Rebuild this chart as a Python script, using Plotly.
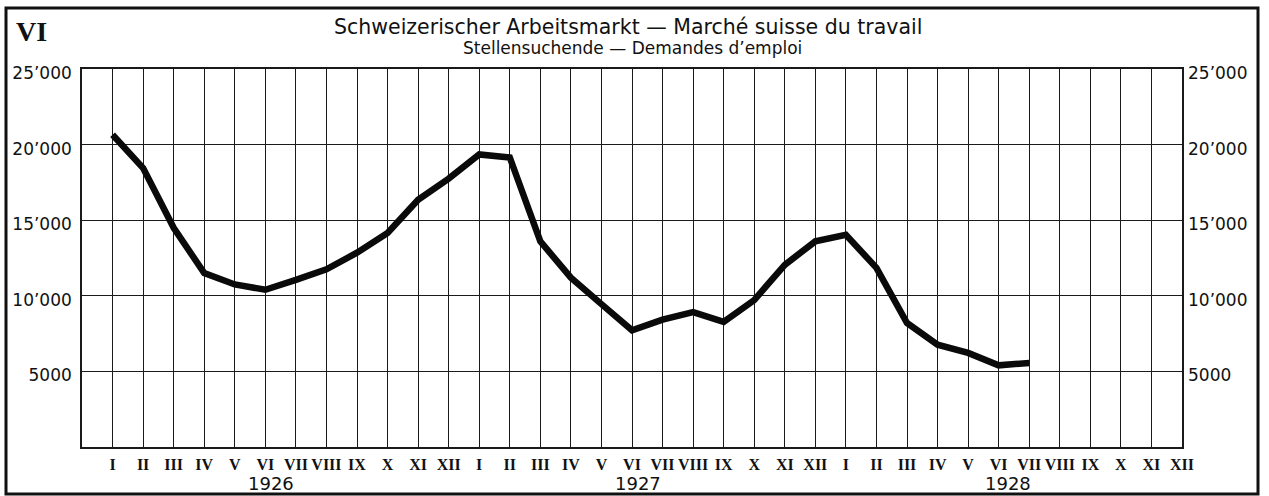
import plotly.graph_objects as go

# Data: job seekers (Stellensuchende), monthly, Jan 1926 - Jul 1928
month_labels = ["I", "II", "III", "IV", "V", "VI", "VII", "VIII", "IX", "X", "XI", "XII"]
years = ["1926", "1927", "1928"]
values = [
    20650, 18450, 14500, 11500, 10750, 10400, 11050, 11750, 12850, 14150, 16350, 17750,  # 1926
    19350, 19150, 13600, 11200, 9450, 7720, 8420, 8920, 8280, 9720, 12050, 13600,        # 1927
    14030, 11850, 8200, 6770, 6220, 5400, 5560,                                          # 1928
]
y_tickvals = [5000, 10000, 15000, 20000, 25000]
y_ticktext = ["5000", "10\u2019000", "15\u2019000", "20\u2019000", "25\u2019000"]
year_label_pos = [5.2, 17.2, 29.3]

x_all = list(range(len(month_labels) * len(years)))
x_labels = month_labels * len(years)
x_vals = x_all[:len(values)]

GRID = "#1a1a1a"
NUMFONT = dict(family="DejaVu Sans", size=17, color="#111")

fig = go.Figure()
fig.add_trace(go.Scatter(
    x=x_vals, y=values, mode="lines",
    line=dict(color="#0a0a0a", width=6.5, shape="linear"),
    hoverinfo="skip", showlegend=False,
))
# invisible trace for right axis
fig.add_trace(go.Scatter(x=[x_vals[0]], y=[values[0]], yaxis="y2", mode="markers",
                         marker=dict(opacity=0), hoverinfo="skip", showlegend=False))

fig.update_layout(
    width=1269, height=496,
    margin=dict(l=82, r=87, t=69, b=49, autoexpand=False),
    paper_bgcolor="white", plot_bgcolor="white",
    xaxis=dict(
        range=[-1, 35], tickmode="array", tickvals=x_all, ticktext=x_labels,
        showgrid=True, gridcolor=GRID, gridwidth=1.2,
        showline=True, linecolor=GRID, linewidth=1.6, mirror=True,
        ticks="", zeroline=False, tickangle=0, automargin=False,
        tickfont=dict(family="Liberation Serif", size=16, color="#111", weight="bold"),
        ticklabelstandoff=2,
    ),
    yaxis=dict(
        range=[0, 25000], tickmode="array", tickvals=y_tickvals, ticktext=y_ticktext,
        showgrid=True, gridcolor=GRID, gridwidth=1.2,
        showline=True, linecolor=GRID, linewidth=1.6, mirror=True,
        ticks="", zeroline=False, tickfont=NUMFONT, automargin=False,
        ticklabelstandoff=5, ticklabelshift=4,
    ),
    yaxis2=dict(
        range=[0, 25000], tickmode="array", tickvals=y_tickvals, ticktext=y_ticktext,
        overlaying="y", side="right", showgrid=False, zeroline=False, automargin=False,
        ticks="", tickfont=NUMFONT, ticklabelstandoff=5, ticklabelshift=4,
    ),
    font=dict(family="DejaVu Sans", color="#111"),
)

# Outer frame
fig.add_shape(type="rect", xref="paper", yref="paper",
              x0=(6 - 82) / 1100, x1=(1258 - 82) / 1100,
              y0=(447 - 494) / 378, y1=(447 - 8) / 378,
              line=dict(color="#111", width=3), fillcolor="rgba(0,0,0,0)", layer="below")

# Titles
fig.add_annotation(text="Schweizerischer Arbeitsmarkt \u2014 Marché suisse du travail",
                   xref="paper", yref="paper", x=(628 - 82) / 1100, y=(447 - 27) / 378,
                   showarrow=False, font=dict(family="DejaVu Sans", size=20.5, color="#111"),
                   xanchor="center", yanchor="middle")
fig.add_annotation(text="Stellensuchende \u2014 Demandes d\u2019emploi",
                   xref="paper", yref="paper", x=(632 - 82) / 1100, y=(447 - 48) / 378,
                   showarrow=False, font=dict(family="DejaVu Sans", size=17, color="#111"),
                   xanchor="center", yanchor="middle")
fig.add_annotation(text="<b>VI</b>", xref="paper", yref="paper",
                   x=(31 - 82) / 1100, y=(447 - 31) / 378, showarrow=False,
                   font=dict(family="Liberation Serif", size=28, color="#111"),
                   xanchor="center", yanchor="middle")

# Year labels
for yr, pos in zip(years, year_label_pos):
    fig.add_annotation(text=yr, xref="x", yref="paper", x=pos, y=(447 - 483) / 378,
                       showarrow=False, font=dict(family="DejaVu Sans", size=18, color="#111"),
                       xanchor="center", yanchor="middle")

fig.write_html(
    "out.html",
    config={"displayModeBar": False},
    post_script="document.body.style.margin='0';document.body.style.overflow='hidden';",
)
